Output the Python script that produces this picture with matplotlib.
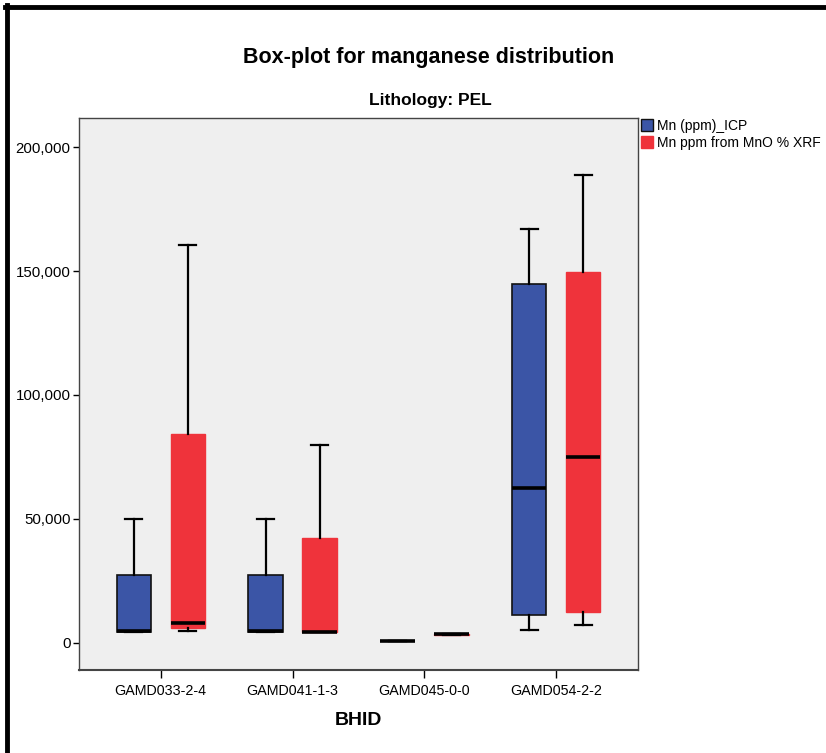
import matplotlib.pyplot as plt
from matplotlib.patches import Patch
from matplotlib.lines import Line2D
from matplotlib.ticker import FuncFormatter

plt.rcParams['font.family'] = ['Liberation Sans', 'DejaVu Sans']

# Box-plot summary values per borehole (ppm)
bhid = ['GAMD033-2-4', 'GAMD041-1-3', 'GAMD045-0-0', 'GAMD054-2-2']

icp_min = [4500, 4500, 800, 5200]
icp_q1 = [4500, 4500, 800, 11300]
icp_med = [4700, 4700, 800, 62500]
icp_q3 = [27400, 27400, 800, 144800]
icp_max = [50000, 50000, 800, 166900]

xrf_min = [4800, 4400, 3200, 7300]
xrf_q1 = [6200, 4400, 3200, 12500]
xrf_med = [8100, 4400, 3500, 75000]
xrf_q3 = [84300, 42300, 3800, 149600]
xrf_max = [160500, 79800, 3800, 188700]

blue = '#3B55A6'
red = '#EF333B'


def make_stats(lo, q1, med, q3, hi):
    return [dict(whislo=a, q1=b, med=c, q3=d, whishi=e, fliers=[])
            for a, b, c, d, e in zip(lo, q1, med, q3, hi)]


fig = plt.figure(figsize=(8.26, 7.53), dpi=100)
ax = fig.add_axes([79 / 826, 1 - 670 / 753, 559 / 826, 552 / 753])
ax.set_facecolor('#EFEFEF')

pos = [1, 2, 3, 4]
off = 0.205
common = dict(showfliers=False, patch_artist=True, widths=0.26,
              whiskerprops=dict(color='black', lw=1.6),
              capprops=dict(color='black', lw=1.6),
              medianprops=dict(color='black', lw=2.6))

b1 = ax.bxp(make_stats(icp_min, icp_q1, icp_med, icp_q3, icp_max),
            positions=[p - off for p in pos], capwidths=0.13,
            boxprops=dict(facecolor=blue, edgecolor='#111111', lw=1.2),
            **common)
b2 = ax.bxp(make_stats(xrf_min, xrf_q1, xrf_med, xrf_q3, xrf_max),
            positions=[p + off for p in pos], capwidths=0.13,
            boxprops=dict(facecolor=red, edgecolor=red, lw=1.0),
            **common)

ax.set_xlim(0.38, 4.62)
ax.set_ylim(-10900, 211700)
ax.set_xticks(pos)
ax.set_xticklabels(bhid, fontsize=10.3)
ax.set_yticks([0, 50000, 100000, 150000, 200000])
ax.yaxis.set_major_formatter(FuncFormatter(lambda v, p: f'{int(v):,}'))
ax.tick_params(axis='y', labelsize=10.8, length=4, width=1, pad=2)
ax.tick_params(axis='x', length=6, width=1, pad=4)
for s in ax.spines.values():
    s.set_color('#444444')
    s.set_linewidth(1.0)
ax.spines['bottom'].set_linewidth(1.5)

ax.set_xlabel('BHID', fontsize=14, fontweight='bold', labelpad=10)

fig.text(429 / 826, 1 - 58 / 753, 'Box-plot for manganese distribution',
         ha='center', va='center', fontsize=15.5, fontweight='bold')
fig.text(430 / 826, 1 - 101 / 753, 'Lithology: PEL',
         ha='center', va='center', fontsize=12.5, fontweight='bold')

handles = [Patch(facecolor=blue, edgecolor='#111111', label='Mn (ppm)_ICP'),
           Patch(facecolor=red, edgecolor=red, label='Mn ppm from MnO % XRF')]
fig.legend(handles=handles, loc='upper left',
           bbox_to_anchor=(638 / 826, 1 - 116 / 753), frameon=False,
           fontsize=10, handlelength=0.9, handleheight=0.9,
           handletextpad=0.3, labelspacing=0.2, borderpad=0.2,
           borderaxespad=0)

# thick frame on the left and top edges
fig.add_artist(Line2D([7 / 826, 7 / 826], [0, 1 - 5 / 753], color='black',
                      lw=3.5, transform=fig.transFigure))
fig.add_artist(Line2D([5 / 826, 1], [1 - 7 / 753, 1 - 7 / 753], color='black',
                      lw=3.5, transform=fig.transFigure))

fig.savefig('out.png', dpi=100)
